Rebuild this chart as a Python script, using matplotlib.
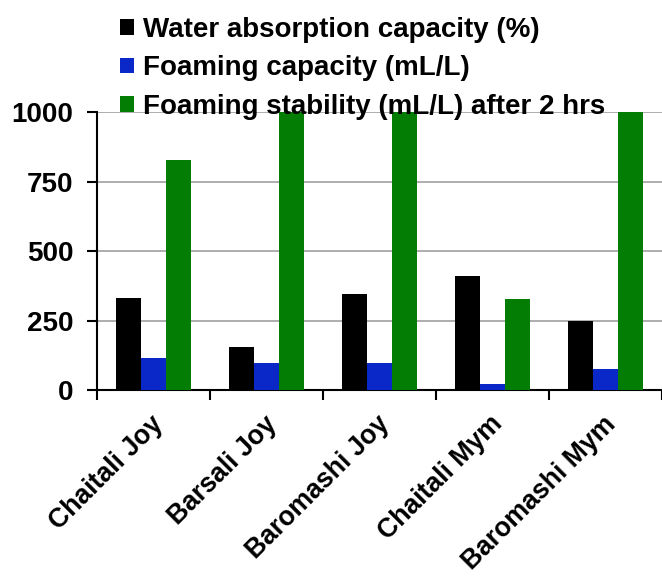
import matplotlib.pyplot as plt
import matplotlib.transforms as mtransforms
import numpy as np

# ---- data ----
varieties = ['Chaitali Joy', 'Barsali Joy', 'Baromashi Joy', 'Chaitali Mym', 'Baromashi Mym']
water_abs = [332, 155, 346, 409, 250]
foam_cap = [116, 97, 97, 22, 78]
foam_stab = [828, 1000, 1000, 327, 1000]
series_labels = ['Water absorption capacity (%)',
                 'Foaming capacity (mL/L)',
                 'Foaming stability (mL/L) after 2 hrs']
yticks = [0, 250, 500, 750, 1000]

plt.rcParams['font.family'] = ['Liberation Sans', 'DejaVu Sans']
plt.rcParams['font.weight'] = 'bold'

fig = plt.figure(figsize=(6.62, 5.79), dpi=100)
ax = fig.add_axes([0.1465, 0.326, 0.8535, 0.4806])

x = np.arange(len(varieties)) + 0.5
w = 0.22
c_black = '#000000'
c_blue = '#0a28c8'
c_green = '#037d03'

ax.bar(x - w, water_abs, w, color=c_black, label=series_labels[0], zorder=3)
ax.bar(x, foam_cap, w, color=c_blue, label=series_labels[1], zorder=3)
ax.bar(x + w, foam_stab, w, color=c_green, label=series_labels[2], zorder=3)

ax.set_xlim(0, len(varieties))
ax.set_ylim(0, 1000)
ax.set_yticks(yticks)
ax.set_yticklabels([str(t) for t in yticks], fontsize=20, fontweight='bold')
ax.yaxis.grid(True, color='#a0a0a0', linewidth=1.2, zorder=0)

ax.set_xticks(np.arange(len(varieties) + 1))
ax.set_xticklabels([])
ax.set_xticks(x, minor=True)
ax.set_xticklabels(varieties, minor=True, rotation=45, ha='right',
                   rotation_mode='anchor', fontsize=19.2, fontweight='bold')
ax.tick_params(axis='x', which='minor', length=0, pad=15)
ax.tick_params(axis='x', which='major', length=7, width=1.5, direction='out')
ax.tick_params(axis='y', length=7, width=1.5, direction='out', pad=10)

# nudge the rotated category labels a little to the left
shift = mtransforms.ScaledTranslation(-3 / 100, 0, fig.dpi_scale_trans)
for lbl in ax.get_xticklabels(minor=True):
    lbl.set_transform(lbl.get_transform() + shift)

for s in ['top', 'right']:
    ax.spines[s].set_visible(False)
for s in ['left', 'bottom']:
    ax.spines[s].set_linewidth(1.5)

fig.legend(loc='upper left', bbox_to_anchor=(0.161, 0.995), frameon=False,
           prop={'size': 20, 'weight': 'bold'}, handlelength=0.48, handleheight=0.48,
           handletextpad=0.33, labelspacing=0.45, borderaxespad=0.1)

fig.savefig('out.png', dpi=100)
